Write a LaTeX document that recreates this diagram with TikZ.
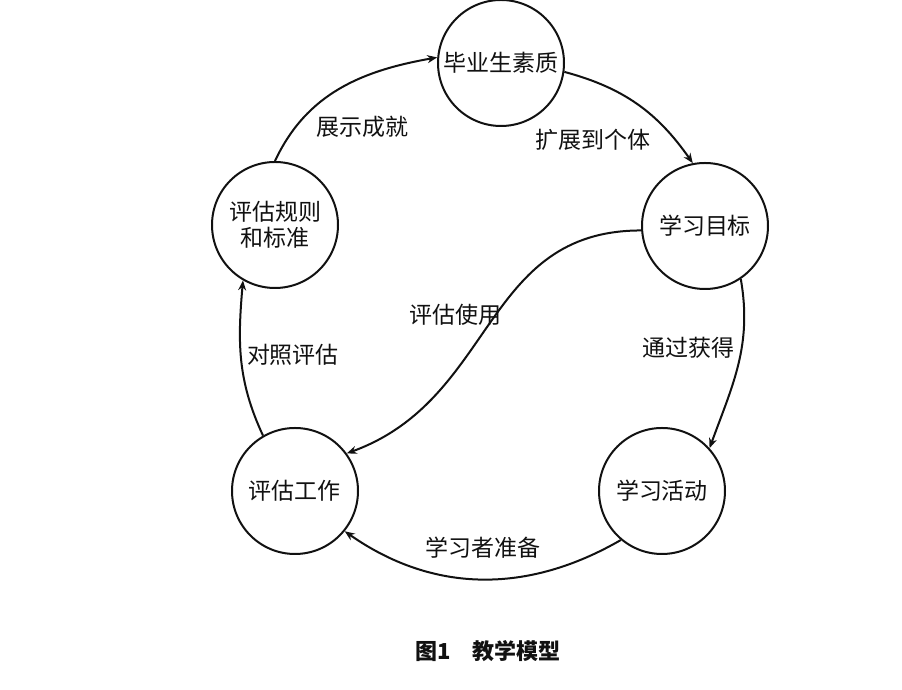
\documentclass[tikz,border=0pt]{standalone}
\usepackage{fontspec}
\setmainfont{Noto Sans CJK SC}
\usetikzlibrary{arrows.meta}
\definecolor{modelInk}{HTML}{111111}
\tikzset{
  every picture/.style={font=\fontsize{11.5}{13}\selectfont, text=modelInk},
  model circle/.style={circle, draw=modelInk, line width=1pt, fill=white,
    align=center, minimum size=63pt, inner sep=0pt},
  model arrow/.style={-{Stealth[length=5pt,width=4pt]},
    draw=modelInk, line width=1pt},
  model label/.style={inner sep=1pt}
}
\begin{document}
\begin{tikzpicture}[x=0.5pt,y=0.5pt]
  \useasboundingbox (0,0) rectangle (902,690);
  \node[model circle] (quality)  at (501,627) {毕业生素质};
  \node[model circle] (goal)     at (705,464) {学习目标};
  \node[model circle] (activity) at (662,199) {学习活动};
  \node[model circle] (work)     at (295,199) {评估工作};
  \node[model circle] (rules)    at (275,465) {评估规则\\和标准};

  \draw[model arrow] (rules.90) to[out=65,in=190] (quality.175);
  \draw[model arrow] (quality.-8) to[out=-15,in=125] (goal.101);
  \draw[model arrow] (goal.-56) to[out=-80,in=70] (activity.42);
  \draw[model arrow] (activity.-130) to[out=-150,in=-35] (work.-39);
  \draw[model arrow] (goal.184) to[out=180,in=20,looseness=1.1] (work.36);
  \draw[model arrow] (work.120) to[out=115,in=-95] (rules.-120);

  \node[model label] (showLbl)    at (362,563) {展示成就};
  \node[model label] (extendLbl)  at (593,550) {扩展到个体};
  \node[model label] (useLbl)     at (455,375) {评估使用};
  \node[model label] (compareLbl) at (293,335) {对照评估};
  \node[model label] (gainLbl)    at (688,342) {通过获得};
  \node[model label] (prepLbl)    at (483,142) {学习者准备};

  \node[font=\fontsize{11}{13}\selectfont\bfseries] (caption) at (488,39) {图1\quad 教学模型};
\end{tikzpicture}
\end{document}
